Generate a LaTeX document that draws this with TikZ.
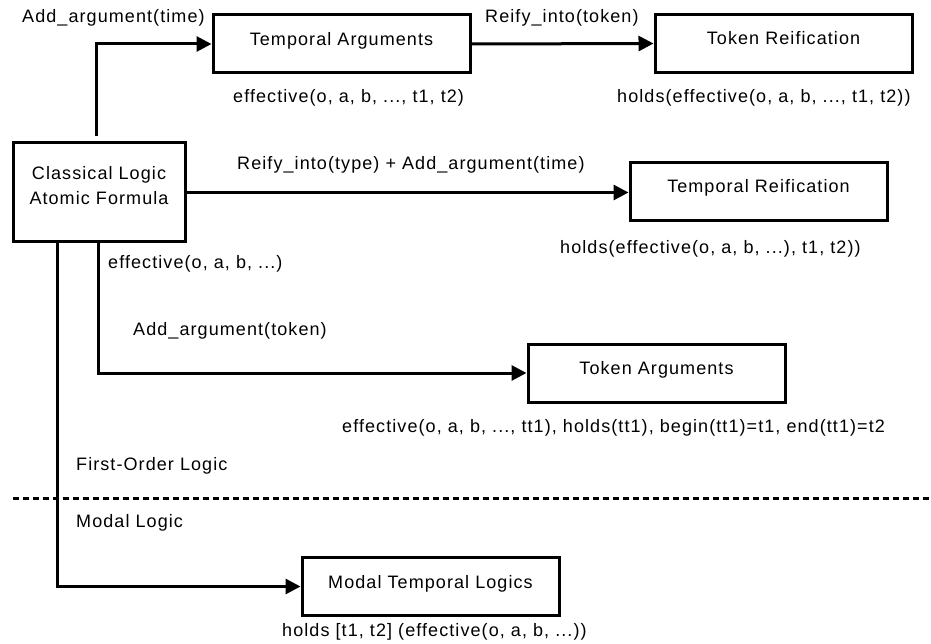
\documentclass[tikz,border=0pt]{standalone}
\usepackage{fontspec}
\setmainfont{Liberation Sans}[LetterSpace=6]
\usetikzlibrary{arrows.meta}
\begin{document}
\begin{tikzpicture}[x=1pt,y=-1pt,
  box/.style={draw, line width=3pt, minimum width=257pt, minimum height=58pt, inner sep=0pt,
              text height=15pt, text depth=12pt, font=\fontsize{18}{22}\selectfont},
  lbl/.style={anchor=base west, inner sep=0pt, font=\fontsize{18}{22}\selectfont},
  conn/.style={line width=3pt, -{Triangle[length=15pt,width=15pt]}},
  sep/.style={line width=3pt, dash pattern=on 6pt off 4pt}]
\useasboundingbox (0,0) rectangle (931,644);

% boxes
\node[draw, line width=3pt, minimum width=172pt, minimum height=99pt, inner sep=0pt, align=center,
      font=\fontsize{18}{25}\selectfont] (CL) at (99,192.5)
      {Classical Logic\\Atomic Formula\rule[-14pt]{0pt}{1pt}};
\node[box] (TA)   at (341.5,44)   {Temporal Arguments};
\node[box] (TR)   at (783.5,43.5) {Token Reification};
\node[box] (TRe)  at (758.5,191.5){Temporal Reification};
\node[box] (TokA) at (656.5,373)  {Token Arguments};
\node[box] (MTL)  at (430.5,586.5){Modal Temporal Logics};

% connectors
\draw[conn, shorten <=5pt] ([xshift=-3pt]CL.north) |- (TA.west);
\draw[conn] (TA.east) -- (TR.west);
\draw[conn] (CL.east) -- (CL.east -| TRe.west);
\draw[conn] ([xshift=-1pt]CL.south) |- (TokA.west);
\draw[conn] ([xshift=-42pt]CL.south) |- (MTL.west);

% separator
\coordinate (sepL) at (13,498);
\coordinate (sepR) at (931,498);
\draw[sep] (sepL) -- (sepR);

% labels
\node[lbl] (l1)  at (22,23)   {Add\_argument(time)};
\node[lbl] (l2)  at (233,103) {effective(o, a, b, ..., t1, t2)};
\node[lbl] (l3)  at (485,23)  {Reify\_into(token)};
\node[lbl] (l4)  at (617,103) {holds(effective(o, a, b, ..., t1, t2))};
\node[lbl] (l5)  at (237,170) {Reify\_into(type) + Add\_argument(time)};
\node[lbl] (l6)  at (560,254) {holds(effective(o, a, b, ...), t1, t2))};
\node[lbl] (l7)  at (108,269) {effective(o, a, b, ...)};
\node[lbl] (l8)  at (133,335) {Add\_argument(token)};
\node[lbl] (l9)  at (342,432) {effective(o, a, b, ..., tt1), holds(tt1), begin(tt1)=t1, end(tt1)=t2};
\node[lbl] (l10) at (76,470)  {First-Order Logic};
\node[lbl] (l11) at (76,527)  {Modal Logic};
\node[lbl] (l12) at (282,636) {holds [t1, t2] (effective(o, a, b, ...))};
\end{tikzpicture}
\end{document}
